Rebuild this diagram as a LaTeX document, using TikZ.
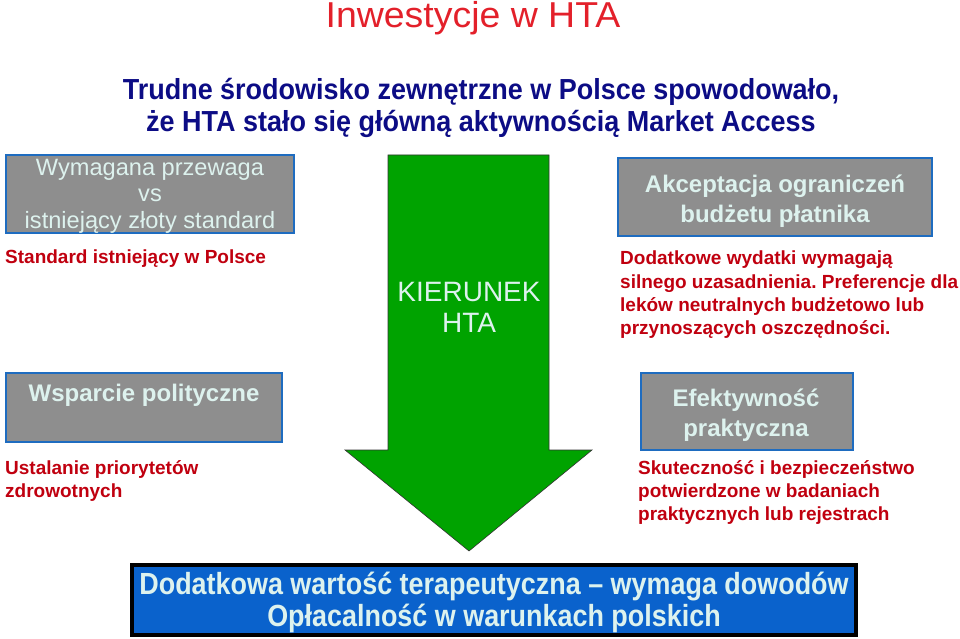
\documentclass[tikz,border=0pt]{standalone}
\usepackage{fontspec}
\setmainfont{Liberation Sans}
\frenchspacing
\newfontfamily\narrowfont[FakeStretch=0.88]{Liberation Sans}
\newfontfamily\subfont[FakeStretch=0.93]{Liberation Sans}
\newfontfamily\widefont[FakeStretch=1.04]{Liberation Sans}
\definecolor{titlered}{HTML}{E3202A}
\definecolor{navy}{HTML}{0C0C85}
\definecolor{darkred}{HTML}{C0000F}
\definecolor{boxgrey}{HTML}{8E8E8E}
\definecolor{boxblue}{HTML}{1E6CC0}
\definecolor{lighttxt}{HTML}{DDF2EE}
\definecolor{arrowgreen}{HTML}{00A300}
\definecolor{bottomblue}{HTML}{0A62CC}
\begin{document}
\begin{tikzpicture}[x=1pt,y=-1pt,
  greybox/.style={draw=boxblue,line width=2.5pt,fill=boxgrey,inner sep=0pt},
  boxtext/.style={text=lighttxt,font=\fontsize{23.6}{26.5}\selectfont,align=center,inner sep=0pt},
  boxtextb/.style={text=lighttxt,font=\bfseries\fontsize{24}{29.5}\selectfont,align=center,inner sep=0pt},
  redtext/.style={text=darkred,font=\bfseries\fontsize{19}{23.2}\selectfont,align=left,anchor=north west,inner sep=0pt},
]
\useasboundingbox (0,0) rectangle (960,639);
% title
\node[text=titlered,font=\widefont\fontsize{36}{36}\selectfont,inner sep=0pt,anchor=base] (title) at (473,28) {Inwestycje w HTA};
\node[text=navy,font=\subfont\bfseries\fontsize{29}{32}\selectfont,align=center,inner sep=0pt] (subtitle) at (481,108) {Trudne środowisko zewnętrzne w Polsce spowodowało,\\że HTA stało się główną aktywnością Market Access};
% arrow
\draw[fill=arrowgreen,line width=0.6pt,draw=black!80] (388,155) -- (549,155) -- (549,450) -- (592,450) -- (469,551) -- (345,450) -- (388,450) -- cycle;
\node[text=lighttxt,font=\fontsize{28}{31}\selectfont,align=center,inner sep=0pt] (kier) at (469,307) {KIERUNEK\\HTA};
% top left
\draw[greybox] (6,155) rectangle (294,233);
\node[boxtext] (tl) at (150,196) {Wymagana przewaga\\vs\\istniejący złoty standard};
\node[redtext] (tlr) at (5,250) {Standard istniejący w Polsce};
% top right
\draw[greybox] (618,158) rectangle (932,236);
\node[boxtextb] (tr) at (775,201) {Akceptacja ograniczeń\\budżetu płatnika};
\node[redtext] (trr) at (620,251) {Dodatkowe wydatki wymagają\\silnego uzasadnienia. Preferencje dla\\leków neutralnych budżetowo lub\\przynoszących oszczędności.};
% middle left
\draw[greybox] (6,373) rectangle (282,442);
\node[boxtextb] (ml) at (144,395) {Wsparcie polityczne};
\node[redtext] (mlr) at (5,460) {Ustalanie priorytetów\\zdrowotnych};
% middle right
\draw[greybox] (641,373) rectangle (853,450);
\node[boxtextb] (mr) at (746,415) {Efektywność\\praktyczna};
\node[redtext] (mrr) at (638,460) {Skuteczność i bezpieczeństwo\\potwierdzone w badaniach\\praktycznych lub rejestrach};
% bottom
\draw[draw=black,line width=3.5pt,fill=bottomblue] (132,565) rectangle (856,635);
\node[text=lighttxt,font=\narrowfont\bfseries\fontsize{30.6}{32}\selectfont,align=center,inner sep=0pt] (bot) at (494,602) {Dodatkowa wartość terapeutyczna – wymaga dowodów\\Opłacalność w warunkach polskich};
\end{tikzpicture}
\end{document}
